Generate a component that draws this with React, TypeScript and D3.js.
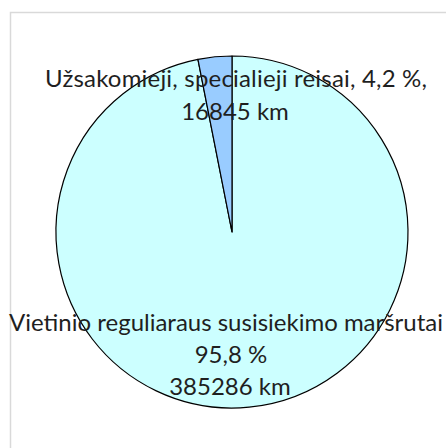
import { useEffect, useRef } from 'react';
import * as d3 from 'd3';

// slices in Excel order: the big one starts at 12 o'clock, clockwise
const categories = ['Vietinio reguliaraus susisiekimo maršrutai', 'Užsakomieji, specialieji reisai'];
const lengthsKm = [385286, 16845];
const percentLabels = ['95,8 %', '4,2 %'];
// share of the circle each wedge takes, as measured on the drawn picture
const drawnShare = [96.9, 3.1];
const sliceColors = ['#ccffff', '#99ccff'];

const W = 446;
const H = 448;

const App = () => {
  const ref = useRef<SVGSVGElement>(null);

  useEffect(() => {
    const svg = d3.select(ref.current);
    svg.selectAll('*').remove();

    // chart area border, runs off the right and bottom edges
    svg.append('rect')
      .attr('x', 10.5).attr('y', 12.5)
      .attr('width', W).attr('height', H)
      .attr('fill', '#fff')
      .attr('stroke', '#d9d9d9')
      .attr('stroke-width', 1.5);

    const cx = 232, cy = 232, r = 176;

    const pie = d3.pie<number>().sort(null).value(d => d);
    const arcs = pie(drawnShare);
    const arc = d3.arc<d3.PieArcDatum<number>>().innerRadius(0).outerRadius(r);

    const g = svg.append('g').attr('transform', `translate(${cx},${cy})`);
    g.selectAll('path')
      .data(arcs)
      .enter()
      .append('path')
      .attr('d', arc)
      .attr('fill', (d, i) => sliceColors[i])
      .attr('stroke', '#000')
      .attr('stroke-width', 1.2)
      .attr('stroke-linejoin', 'round');

    const fmt = (v: number) => `${v} km`;
    const font = 'Lato, "Open Sans", sans-serif';

    // small slice label: two lines above the centre
    const top = svg.append('text')
      .attr('font-family', font).attr('font-size', 24)
      .attr('fill', '#1f1f1f').attr('text-anchor', 'middle');
    top.append('tspan').attr('x', 236).attr('y', 87)
      .attr('textLength', 382).attr('lengthAdjust', 'spacing')
      .text(`${categories[1]}, ${percentLabels[1]},`);
    top.append('tspan').attr('x', 235).attr('y', 120)
      .text(fmt(lengthsKm[1]));

    // big slice label: three lines near the bottom
    const bottom = svg.append('text')
      .attr('font-family', font).attr('font-size', 24)
      .attr('fill', '#1f1f1f').attr('text-anchor', 'middle');
    bottom.append('tspan').attr('x', 226).attr('y', 331)
      .attr('textLength', 434).attr('lengthAdjust', 'spacing')
      .text(categories[0]);
    bottom.append('tspan').attr('x', 231).attr('y', 363).text(percentLabels[0]);
    bottom.append('tspan').attr('x', 230).attr('y', 395).text(fmt(lengthsKm[0]));
  }, []);

  return (
    <svg ref={ref} width={W} height={H}
      style={{ position: 'absolute', left: 0, top: 0, background: '#fff' }} />
  );
};

export default App;
